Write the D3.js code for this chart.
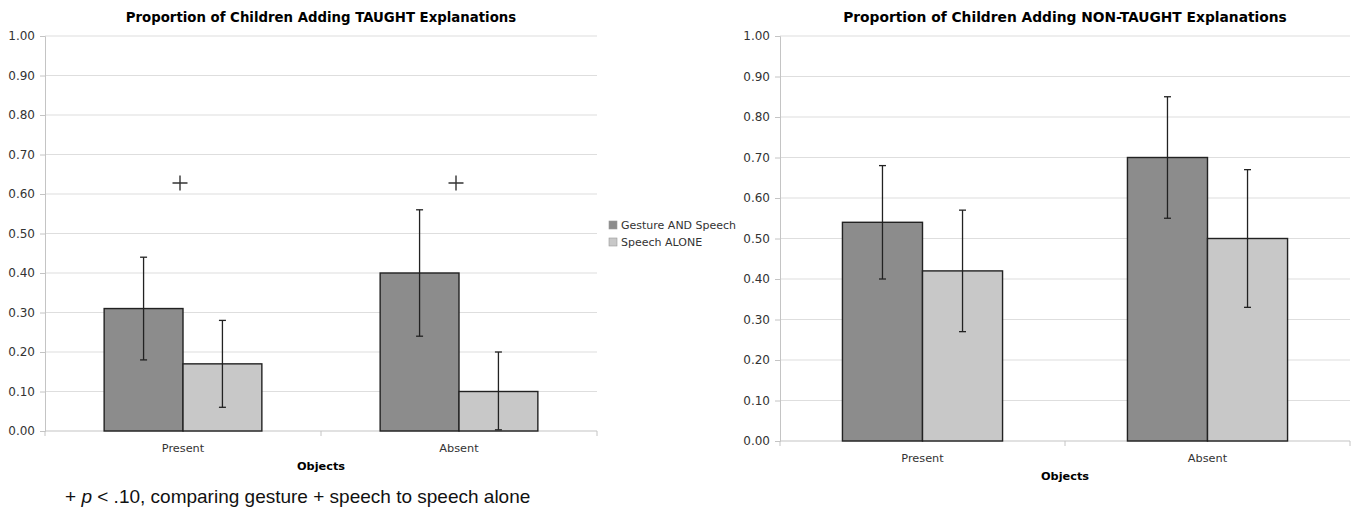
<!DOCTYPE html>
<html>
<head>
<meta charset="utf-8">
<script src="https://cdn.jsdelivr.net/npm/d3@7"></script>
<style>
  body { margin: 0; background: #fff; }
  svg { display: block; }
</style>
</head>
<body>
<svg id="canvas" width="1355" height="512"></svg>
<script>
// categories and series
let categories = ['Present', 'Absent']
let seriesNames = ['Gesture AND Speech', 'Speech ALONE']
let seriesColors = ['#8c8c8c', '#c8c8c8']
let yTicks = [0, 0.1, 0.2, 0.3, 0.4, 0.5, 0.6, 0.7, 0.8, 0.9, 1.0]

// TAUGHT chart
let taughtGesture = [0.31, 0.40]
let taughtSpeech = [0.17, 0.10]
let taughtGestureErr = [[0.18, 0.44], [0.24, 0.56]]
let taughtSpeechErr = [[0.06, 0.28], [0.003, 0.20]]
let taughtSig = [0.628, 0.628] // "+" markers, p < .10

// NON-TAUGHT chart
let nonTaughtGesture = [0.54, 0.70]
let nonTaughtSpeech = [0.42, 0.50]
let nonTaughtGestureErr = [[0.40, 0.68], [0.55, 0.85]]
let nonTaughtSpeechErr = [[0.27, 0.57], [0.33, 0.67]]

let canvas = d3.select('#canvas')
let font = 'DejaVu Sans, Verdana, sans-serif'

let drawChart = (opts) => {
    let g = canvas.append('g')

    let x = d3.scaleBand().domain(categories).range([opts.left, opts.right])
    let xInner = d3.scaleBand().domain(seriesNames)
            .range([0, x.bandwidth()]).paddingOuter(opts.pad).paddingInner(0)
    let y = d3.scaleLinear().domain([0, 1]).range([opts.bottom, opts.top])

    // gridlines
    g.selectAll('line.grid')
            .data(yTicks.slice(1))
            .enter()
            .append('line')
            .attr('x1', opts.left).attr('x2', opts.right)
            .attr('y1', d => y(d)).attr('y2', d => y(d))
            .style('stroke', '#dedede')
            .style('stroke-width', '1.2px')

    // y axis
    let yAxis = g.append('g')
            .attr('transform', `translate(${opts.left},0)`)
            .call(d3.axisLeft(y).tickValues(yTicks).tickFormat(d3.format('.2f')).tickSize(5).tickPadding(5))
    yAxis.select('.domain').style('stroke', '#c4c4c4')
    yAxis.selectAll('.tick line').style('stroke', '#c4c4c4')
    yAxis.selectAll('text').style('font-family', font).style('font-size', '12px').style('fill', '#333')

    // x axis
    let xAxis = g.append('g')
            .attr('transform', `translate(0,${opts.bottom})`)
    xAxis.append('line')
            .attr('x1', opts.left).attr('x2', opts.right)
            .style('stroke', '#c4c4c4').style('stroke-width', '1.2px')
    let edges = categories.map(c => x(c)).concat([opts.right])
    xAxis.selectAll('line.xt')
            .data(edges)
            .enter()
            .append('line')
            .attr('x1', d => d).attr('x2', d => d)
            .attr('y1', 0).attr('y2', 5)
            .style('stroke', '#c4c4c4')
    xAxis.selectAll('text.cat')
            .data(categories)
            .enter()
            .append('text')
            .attr('x', d => x(d) + x.bandwidth() / 2)
            .attr('y', 21)
            .attr('text-anchor', 'middle')
            .style('font-family', font).style('font-size', '11.3px').style('fill', '#333')
            .text(d => d)
    xAxis.append('text')
            .attr('x', (opts.left + opts.right) / 2)
            .attr('y', 39)
            .attr('text-anchor', 'middle')
            .style('font-family', font).style('font-size', '11.3px').style('font-weight', 'bold')
            .text('Objects')

    // bars
    let rows = []
    categories.forEach((c, i) => {
        rows.push({ cat: c, s: seriesNames[0], v: opts.gesture[i], err: opts.gestureErr[i], color: seriesColors[0] })
        rows.push({ cat: c, s: seriesNames[1], v: opts.speech[i], err: opts.speechErr[i], color: seriesColors[1] })
    })
    g.selectAll('rect.bar')
            .data(rows)
            .enter()
            .append('rect')
            .attr('x', d => x(d.cat) + xInner(d.s))
            .attr('y', d => y(d.v))
            .attr('width', xInner.bandwidth())
            .attr('height', d => y(0) - y(d.v))
            .attr('fill', d => d.color)
            .style('stroke', '#222')
            .style('stroke-width', '1.4px')

    // error bars
    let cx = d => x(d.cat) + xInner(d.s) + xInner.bandwidth() / 2
    let eb = g.selectAll('g.err').data(rows).enter().append('g')
    eb.append('line')
            .attr('x1', cx).attr('x2', cx)
            .attr('y1', d => y(d.err[0])).attr('y2', d => y(d.err[1]))
    eb.selectAll('line.cap')
            .data(d => d.err.map(e => ({ x: cx(d), y: y(e) })))
            .enter()
            .append('line')
            .attr('x1', d => d.x - 3.5).attr('x2', d => d.x + 3.5)
            .attr('y1', d => d.y).attr('y2', d => d.y)
    eb.selectAll('line').style('stroke', '#222').style('stroke-width', '1.3px')

    // significance markers (thin plus signs)
    if (opts.sig) {
        let sg = g.selectAll('g.sig')
                .data(opts.sig)
                .enter()
                .append('g')
                .attr('transform', (d, i) => `translate(${x(categories[i]) + x.bandwidth() / 2 - 3},${y(d)})`)
        sg.append('path')
                .attr('d', 'M-7.5,0H7.5M0,-7.5V7.5')
                .style('stroke', '#333')
                .style('stroke-width', '1.4px')
                .style('fill', 'none')
    }

    // title
    g.append('text')
            .attr('x', (opts.left + opts.right) / 2)
            .attr('y', 22)
            .attr('text-anchor', 'middle')
            .style('font-family', font).style('font-size', opts.titleSize).style('font-weight', 'bold')
            .text(opts.title)

    return { x, y }
}

drawChart({
    left: 45, right: 597, top: 36, bottom: 431, pad: 0.75,
    gesture: taughtGesture, speech: taughtSpeech,
    gestureErr: taughtGestureErr, speechErr: taughtSpeechErr,
    sig: taughtSig, titleSize: '13.3px',
    title: 'Proportion of Children Adding TAUGHT Explanations'
})

drawChart({
    left: 780, right: 1350, top: 36, bottom: 441, pad: 0.78,
    gesture: nonTaughtGesture, speech: nonTaughtSpeech,
    gestureErr: nonTaughtGestureErr, speechErr: nonTaughtSpeechErr,
    titleSize: '13.8px',
    title: 'Proportion of Children Adding NON-TAUGHT Explanations'
})

// legend
let legend = canvas.append('g').attr('transform', 'translate(609,221)')
let li = legend.selectAll('g')
        .data(seriesNames)
        .enter()
        .append('g')
        .attr('transform', (d, i) => `translate(0,${i * 17})`)
li.append('rect')
        .attr('width', 8).attr('height', 8)
        .attr('fill', (d, i) => seriesColors[i])
        .style('stroke', '#999').style('stroke-width', '0.6px')
li.append('text')
        .attr('x', 12).attr('y', 4).attr('dy', '0.35em')
        .style('font-family', font).style('font-size', '11px').style('fill', '#333')
        .text(d => d)

// footnote
let note = canvas.append('text')
        .attr('x', 65).attr('y', 503)
        .style('font-family', 'Liberation Sans, Arial, sans-serif')
        .style('font-size', '19px').style('fill', '#111')
note.append('tspan').text('+ ')
note.append('tspan').style('font-style', 'italic').text('p')
note.append('tspan').text(' < .10, comparing gesture + speech to speech alone')
</script>
</body>
</html>
